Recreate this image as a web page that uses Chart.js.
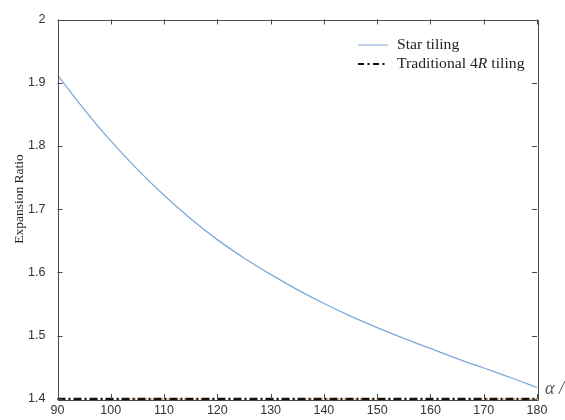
<!DOCTYPE html>
<html>
<head>
<meta charset="utf-8">
<script src="https://cdn.jsdelivr.net/npm/chart.js@4/dist/chart.umd.min.js"></script>
<style>
html,body{margin:0;padding:0;background:#fff;}
#c{display:block;}
</style>
</head>
<body>
<canvas id="c" width="565" height="420"></canvas>
<script>
// ---- data ----
const alphaDeg = [90,95,100,105,110,115,120,125,130,135,140,145,150,155,160,165,170,175,180];
const starTiling = [1.912,1.858,1.808,1.763,1.722,1.685,1.652,1.623,1.597,1.573,1.551,1.531,1.513,1.496,1.480,1.464,1.449,1.434,1.418];
const tradAlpha = [90,180];
const traditional4R = [1.4,1.4];
const hiddenSeries = [1.4,1.4];
const xTickLabels = ['90','100','110','120','130','140','150','160','170','180'];
const yTickLabels = ['1.4','1.5','1.6','1.7','1.8','1.9','2'];
const seriesNames = ['Star tiling','Traditional 4R tiling'];
const yAxisTitle = 'Expansion Ratio';

const xTickValues = xTickLabels.map(Number);
const yTickValues = yTickLabels.map(Number);

function pts(xs, ys){ return xs.map((x,i)=>({x:x,y:ys[i]})); }

const framePlugin = {
  id:'frame',
  afterDatasetsDraw(chart){
    const {ctx, chartArea:a, scales} = chart;
    ctx.save();
    ctx.strokeStyle = '#4a4a4a';
    ctx.lineWidth = 1;
    ctx.beginPath();
    ctx.rect(Math.round(a.left)+0.5, Math.round(a.top)+0.5, Math.round(a.right-a.left), Math.round(a.bottom-a.top));
    ctx.stroke();
    const tl = 5;
    ctx.beginPath();
    xTickValues.forEach(v=>{
      const px = Math.round(scales.x.getPixelForValue(v))+0.5;
      ctx.moveTo(px, a.bottom); ctx.lineTo(px, a.bottom-tl);
      ctx.moveTo(px, a.top); ctx.lineTo(px, a.top+tl);
    });
    yTickValues.forEach(v=>{
      const py = Math.round(scales.y.getPixelForValue(v))+0.5;
      ctx.moveTo(a.left, py); ctx.lineTo(a.left+tl, py);
      ctx.moveTo(a.right, py); ctx.lineTo(a.right-tl, py);
    });
    ctx.stroke();
    ctx.restore();
  },
  afterDraw(chart){
    const {ctx, chartArea:a, scales} = chart;
    ctx.save();
    // y axis title
    ctx.save();
    ctx.translate(19, 199);
    ctx.rotate(-Math.PI/2);
    ctx.fillStyle = '#222';
    ctx.font = '13.5px "Liberation Serif"';
    ctx.textAlign = 'center';
    ctx.textBaseline = 'middle';
    ctx.fillText(yAxisTitle, 0, 0);
    ctx.restore();
    // legend
    const lx = 358, lx2 = 388, tx = 397;
    const y1 = 45, y2 = 64;
    ctx.lineWidth = 1.3;
    ctx.strokeStyle = '#9dbbe0';
    ctx.beginPath(); ctx.moveTo(lx,y1); ctx.lineTo(lx2,y1); ctx.stroke();
    ctx.lineWidth = 2.2;
    ctx.strokeStyle = '#111';
    ctx.setLineDash([6,3.5,2,3.5]);
    ctx.beginPath(); ctx.moveTo(lx,y2); ctx.lineTo(lx2,y2); ctx.stroke();
    ctx.setLineDash([]);
    ctx.fillStyle = '#222';
    ctx.textBaseline = 'middle';
    ctx.textAlign = 'left';
    const sx = 1.12;
    ctx.save();
    ctx.translate(tx, 0);
    ctx.scale(sx, 1);
    ctx.font = '14px "Liberation Serif"';
    ctx.fillText(seriesNames[0], 0, y1);
    const parts = seriesNames[1].split('R');
    let x = 0;
    ctx.fillText(parts[0], x, y2); x += ctx.measureText(parts[0]).width;
    ctx.font = 'italic 14px "Liberation Serif"';
    ctx.fillText('R', x, y2); x += ctx.measureText('R').width;
    ctx.font = '14px "Liberation Serif"';
    ctx.fillText(parts[1], x, y2);
    ctx.restore();
    // alpha axis label
    ctx.fillStyle = '#555';
    ctx.font = 'italic 18px "Liberation Serif"';
    ctx.fillText('\u03b1 /', a.right + 8, scales.y.getPixelForValue(1.4) - 10);
    ctx.restore();
  }
};

new Chart(document.getElementById('c'), {
  type:'line',
  data:{
    datasets:[
      {label:seriesNames[0], data:pts(alphaDeg, starTiling), borderColor:'#7fa8d8', borderWidth:1.3, pointRadius:0, cubicInterpolationMode:'monotone', fill:false},
      {label:seriesNames[1], data:pts(tradAlpha, traditional4R), borderColor:'#111', borderWidth:2.4, borderDash:[8,3,2,3], pointRadius:0, fill:false, clip:false},
      {label:'', data:pts(tradAlpha, hiddenSeries), borderColor:'#f0a868', borderWidth:2, borderDash:[1.5,4], pointRadius:0, fill:false, clip:false}
    ]
  },
  plugins:[framePlugin],
  options:{
    responsive:false,
    animation:false,
    devicePixelRatio:1,
    layout:{padding:{top:16, right:28, left:0, bottom:0}},
    plugins:{legend:{display:false}, tooltip:{enabled:false}},
    scales:{
      x:{
        type:'linear', min:90, max:180,
        grid:{display:false, drawTicks:false},
        border:{display:false},
        afterBuildTicks(s){ s.ticks = xTickValues.map(v=>({value:v})); },
        ticks:{
          callback:(v)=>xTickLabels[xTickValues.indexOf(v)],
          color:'#333', font:{family:'"Liberation Sans", Arial', size:12.5}, padding:4, maxRotation:0, autoSkip:false
        },
        afterFit(s){ s.height = 21; }
      },
      y:{
        type:'linear', min:1.4, max:2,
        grid:{display:false, drawTicks:false},
        border:{display:false},
        afterBuildTicks(s){ s.ticks = yTickValues.map(v=>({value:v})); },
        ticks:{
          callback:(v)=>{ const i = yTickValues.findIndex(t=>Math.abs(t-v)<1e-9); return yTickLabels[i]; },
          color:'#333', font:{family:'"Liberation Sans", Arial', size:12.5}, padding:12, autoSkip:false
        },
        afterFit(s){ s.width = 57.5; }
      }
    }
  }
});
</script>
</body>
</html>
